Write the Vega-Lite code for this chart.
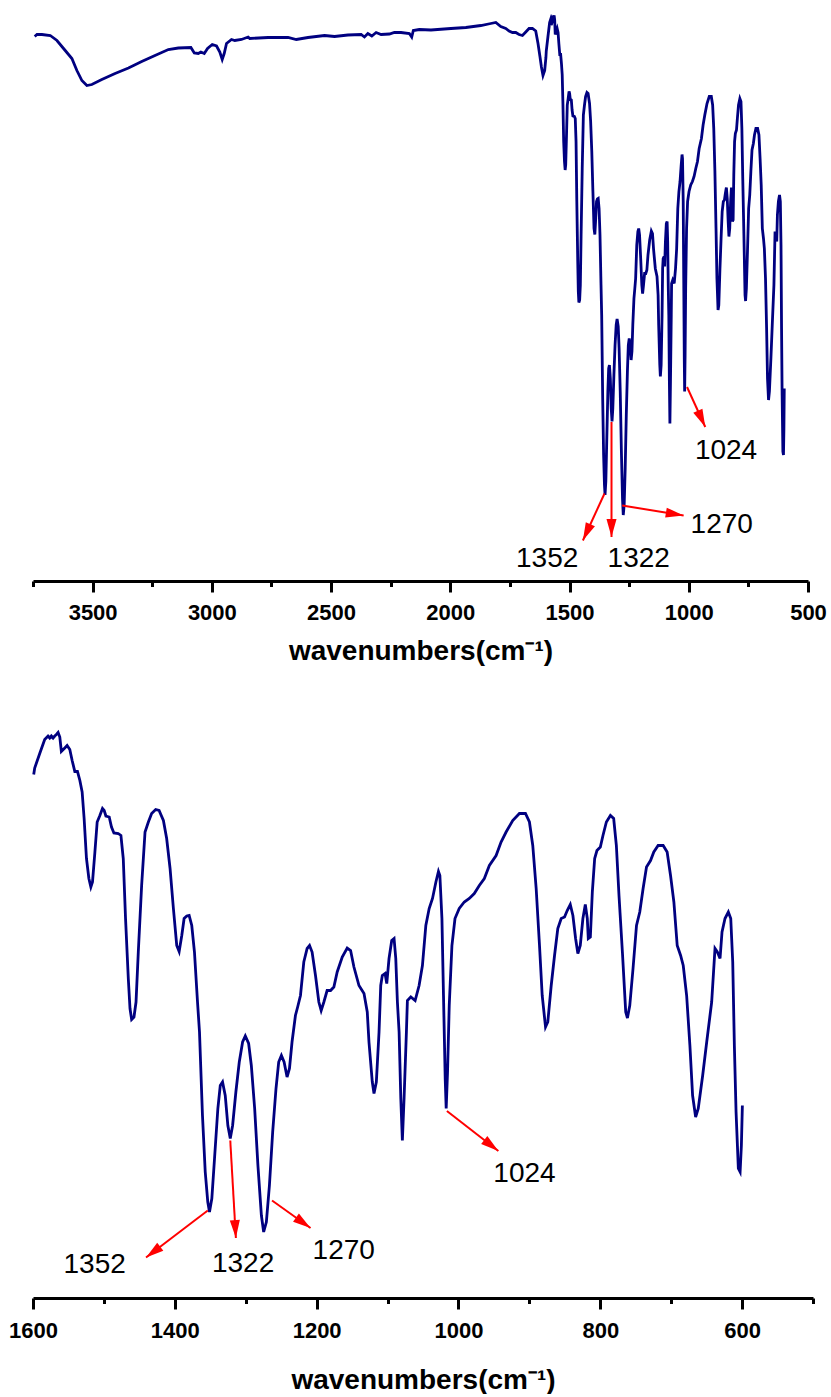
{
  "$schema": "https://vega.github.io/schema/vega-lite/v6.json",
  "padding": {"left": 8, "top": 6, "right": 0, "bottom": 0},
  "background": "white",
  "spacing": 58,
  "config": {
    "view": {"stroke": null},
    "axis": {"domainColor": "black", "domainWidth": 3, "tickColor": "black", "tickWidth": 3, "labelFont": "Liberation Sans", "labelFontWeight": "bold", "labelFontSize": 22, "labelColor": "black", "labelFlush": false, "titleFont": "Liberation Sans", "titleFontWeight": "bold", "titleFontSize": 28, "titleColor": "black", "grid": false}
  },
  "datasets": {
    "spectrum": [
      {"wn":3742.9,"T":108.9},{"wn":3733.3,"T":109.3},{"wn":3712.4,"T":109.3},{"wn":3677.6,"T":109.1},{"wn":3649.6,"T":108.1},{"wn":3614.9,"T":106.1},{"wn":3586.9,"T":104.5},{"wn":3565.9,"T":102.1},{"wn":3545.0,"T":100.1},{"wn":3524.1,"T":99.1},{"wn":3503.2,"T":99.3},{"wn":3461.4,"T":100.3},{"wn":3405.8,"T":101.5},{"wn":3349.7,"T":102.6},{"wn":3294.1,"T":103.9},{"wn":3238.4,"T":105.1},{"wn":3182.4,"T":106.3},{"wn":3140.6,"T":106.6},{"wn":3087.9,"T":106.7},{"wn":3073.6,"T":105.6},{"wn":3056.9,"T":105.5},{"wn":3046.0,"T":105.8},{"wn":3031.8,"T":105.5},{"wn":3018.0,"T":106.5},{"wn":2998.3,"T":107.3},{"wn":2980.4,"T":107.0},{"wn":2966.6,"T":105.8},{"wn":2956.5,"T":104.3},{"wn":2948.2,"T":105.5},{"wn":2938.5,"T":107.5},{"wn":2917.6,"T":108.3},{"wn":2903.8,"T":108.1},{"wn":2875.8,"T":108.3},{"wn":2847.8,"T":108.8},{"wn":2841.1,"T":108.5},{"wn":2764.1,"T":108.7},{"wn":2680.5,"T":108.7},{"wn":2645.7,"T":108.3},{"wn":2596.8,"T":108.7},{"wn":2527.4,"T":109.1},{"wn":2485.5,"T":108.9},{"wn":2429.5,"T":109.2},{"wn":2373.9,"T":109.3},{"wn":2360.1,"T":108.8},{"wn":2345.8,"T":109.5},{"wn":2329.1,"T":109.0},{"wn":2311.1,"T":109.7},{"wn":2290.2,"T":109.3},{"wn":2255.5,"T":109.4},{"wn":2234.6,"T":109.7},{"wn":2206.6,"T":109.7},{"wn":2171.8,"T":109.5},{"wn":2161.8,"T":108.8},{"wn":2155.1,"T":110.1},{"wn":2130.0,"T":110.3},{"wn":2081.1,"T":110.2},{"wn":1997.4,"T":110.5},{"wn":1934.7,"T":110.7},{"wn":1872.0,"T":111.1},{"wn":1830.1,"T":111.5},{"wn":1809.2,"T":111.7},{"wn":1788.3,"T":110.9},{"wn":1767.4,"T":110.5},{"wn":1753.6,"T":110.0},{"wn":1739.4,"T":109.7},{"wn":1725.5,"T":109.7},{"wn":1711.7,"T":109.3},{"wn":1697.5,"T":109.1},{"wn":1683.6,"T":109.8},{"wn":1669.8,"T":110.5},{"wn":1655.6,"T":110.5},{"wn":1641.8,"T":110.0},{"wn":1632.2,"T":107.5},{"wn":1623.8,"T":104.8},{"wn":1617.9,"T":102.8},{"wn":1611.3,"T":101.1},{"wn":1604.2,"T":102.1},
      {"wn":1599.0,"T":104.7},{"wn":1597.6,"T":106.0},{"wn":1590.5,"T":108.9},{"wn":1583.5,"T":111.7},{"wn":1578.8,"T":112.4},{"wn":1576.4,"T":112.0},{"wn":1574.1,"T":112.4},{"wn":1571.7,"T":112.0},{"wn":1569.3,"T":112.4},{"wn":1567.0,"T":112.7},{"wn":1564.6,"T":113.1},{"wn":1562.2,"T":112.2},{"wn":1560.0,"T":109.3},{"wn":1555.2,"T":110.0},{"wn":1551.9,"T":110.5},{"wn":1548.1,"T":109.7},{"wn":1544.8,"T":107.5},{"wn":1541.0,"T":105.3},{"wn":1537.3,"T":105.3},{"wn":1533.9,"T":103.5},{"wn":1530.7,"T":101.2},{"wn":1527.9,"T":95.9},{"wn":1524.6,"T":87.9},{"wn":1521.2,"T":83.9},{"wn":1518.4,"T":82.2},{"wn":1516.1,"T":83.2},{"wn":1512.7,"T":89.2},{"wn":1509.5,"T":95.2},{"wn":1505.7,"T":96.5},{"wn":1502.0,"T":97.9},{"wn":1499.6,"T":97.5},{"wn":1497.2,"T":96.4},{"wn":1492.5,"T":96.2},{"wn":1489.3,"T":94.2},{"wn":1485.9,"T":93.0},{"wn":1479.8,"T":92.9},{"wn":1476.0,"T":92.5},{"wn":1472.7,"T":87.9},{"wn":1469.5,"T":75.9},{"wn":1465.6,"T":63.9},{"wn":1463.2,"T":57.9},{"wn":1460.9,"T":55.7},{"wn":1457.6,"T":56.2},{"wn":1454.7,"T":59.2},{"wn":1451.5,"T":69.2},{"wn":1446.8,"T":82.5},{"wn":1442.0,"T":93.2},{"wn":1437.3,"T":95.2},{"wn":1432.7,"T":96.9},{"wn":1427.0,"T":97.7},{"wn":1422.2,"T":97.5},{"wn":1416.1,"T":95.5},{"wn":1411.5,"T":91.9},{"wn":1406.7,"T":85.9},{"wn":1402.0,"T":77.9},{"wn":1397.3,"T":70.5},{"wn":1393.9,"T":69.3},{"wn":1390.2,"T":72.5},{"wn":1386.9,"T":75.9},{"wn":1383.2,"T":76.4},{"wn":1379.8,"T":76.5},{"wn":1376.1,"T":74.5},{"wn":1372.3,"T":69.2},{"wn":1368.0,"T":59.2},{"wn":1365.2,"T":53.2},{"wn":1361.0,"T":36.5},{"wn":1357.1,"T":25.2},{"wn":1353.5,"T":19.2},{"wn":1351.1,"T":17.2},{"wn":1347.8,"T":19.9},{"wn":1344.0,"T":27.9},{"wn":1339.3,"T":37.9},{"wn":1335.9,"T":42.5},{"wn":1332.7,"T":43.2},{"wn":1328.9,"T":40.5},{"wn":1325.2,"T":34.5},{"wn":1321.8,"T":31.9},{"wn":1318.5,"T":34.5},{"wn":1313.9,"T":41.2},{"wn":1309.1,"T":47.2},{"wn":1304.4,"T":51.2},{"wn":1300.6,"T":52.4},{"wn":1295.9,"T":50.9},{"wn":1292.1,"T":46.5},{"wn":1287.4,"T":37.9},{"wn":1282.8,"T":26.5},{"wn":1277.9,"T":16.5},{"wn":1274.7,"T":13.2},{"wn":1270.9,"T":15.2},{"wn":1266.6,"T":22.5},{"wn":1262.0,"T":33.2},{"wn":1257.3,"T":41.9},{"wn":1253.5,"T":47.2},{"wn":1249.7,"T":48.5},{"wn":1245.9,"T":47.2},{"wn":1241.7,"T":44.2},{"wn":1238.3,"T":45.9},{"wn":1234.7,"T":51.2},{"wn":1229.9,"T":56.5},{"wn":1226.6,"T":58.3},{"wn":1222.8,"T":60.5},{"wn":1218.1,"T":67.2},{"wn":1213.4,"T":69.9},{"wn":1210.0,"T":70.5},{"wn":1206.4,"T":69.2},{"wn":1201.6,"T":64.5},{"wn":1196.9,"T":59.2},{"wn":1193.6,"T":57.5},{"wn":1189.8,"T":59.2},{"wn":1185.2,"T":61.5},{"wn":1180.4,"T":61.5},{"wn":1175.7,"T":62.2},{"wn":1171.0,"T":65.2},{"wn":1163.9,"T":68.2},{"wn":1156.9,"T":70.0},{"wn":1152.1,"T":69.5},{"wn":1147.4,"T":66.2},{"wn":1140.3,"T":62.5},{"wn":1133.2,"T":60.9},{"wn":1128.6,"T":57.2},{"wn":1126.2,"T":51.2},{"wn":1121.5,"T":43.2},{"wn":1119.1,"T":40.9},{"wn":1115.8,"T":43.2},{"wn":1112.0,"T":53.2},{"wn":1109.6,"T":62.5},{"wn":1107.4,"T":64.5},{"wn":1103.5,"T":64.9},{"wn":1101.1,"T":62.9},{"wn":1097.9,"T":67.9},{"wn":1094.1,"T":71.5},{"wn":1090.8,"T":71.9},{"wn":1088.4,"T":67.9},{"wn":1086.1,"T":59.2},{"wn":1083.7,"T":53.2},{"wn":1081.3,"T":39.9},{"wn":1079.1,"T":31.5},{"wn":1076.7,"T":39.9},{"wn":1073.4,"T":53.2},{"wn":1072.0,"T":59.5},{"wn":1067.2,"T":60.2},{"wn":1061.1,"T":59.5},{"wn":1055.5,"T":62.5},{"wn":1050.8,"T":66.5},{"wn":1046.0,"T":74.5},{"wn":1041.3,"T":77.9},{"wn":1036.6,"T":79.9},{"wn":1031.8,"T":83.2},{"wn":1028.2,"T":85.3},{"wn":1026.2,"T":84.5},{"wn":1023.3,"T":75.9},{"wn":1021.1,"T":60.5},{"wn":1018.7,"T":43.9},{"wn":1017.3,"T":37.9},{"wn":1015.4,"T":45.2},{"wn":1013.0,"T":58.5},{"wn":1009.2,"T":70.5},{"wn":1004.9,"T":75.9},{"wn":998.9,"T":77.9},{"wn":991.8,"T":79.2},{"wn":984.7,"T":79.9},{"wn":977.7,"T":80.9},{"wn":970.6,"T":82.5},{"wn":963.5,"T":83.9},{"wn":956.4,"T":86.5},{"wn":946.9,"T":88.5},{"wn":939.9,"T":91.2},{"wn":932.8,"T":93.2},{"wn":923.5,"T":95.5},{"wn":914.0,"T":96.9},{"wn":905.5,"T":96.9},{"wn":899.9,"T":95.2},{"wn":895.2,"T":90.5},{"wn":890.4,"T":81.9},{"wn":885.7,"T":70.5},{"wn":881.9,"T":60.5},{"wn":877.2,"T":54.2},{"wn":874.0,"T":55.2},{"wn":869.2,"T":62.5},{"wn":864.5,"T":68.5},{"wn":859.9,"T":73.9},{"wn":855.1,"T":75.9},{"wn":850.4,"T":76.2},{"wn":846.6,"T":77.5},{"wn":842.3,"T":78.7},{"wn":838.6,"T":76.5},{"wn":834.8,"T":71.9},{"wn":831.6,"T":68.9},{"wn":828.2,"T":70.5},{"wn":824.5,"T":75.9},{"wn":821.1,"T":78.7},{"wn":818.3,"T":75.9},{"wn":816.9,"T":71.9},{"wn":814.0,"T":72.2},{"wn":811.2,"T":81.2},{"wn":807.9,"T":87.9},{"wn":804.7,"T":89.5},{"wn":799.9,"T":90.2},{"wn":796.2,"T":92.5},{"wn":791.4,"T":95.2},{"wn":785.7,"T":96.5},{"wn":781.1,"T":95.9},{"wn":777.3,"T":90.5},{"wn":773.6,"T":80.5},{"wn":768.8,"T":69.2},{"wn":764.1,"T":57.2},{"wn":761.7,"T":56.0},{"wn":758.4,"T":58.5},{"wn":753.8,"T":65.9},{"wn":748.9,"T":74.5},{"wn":744.3,"T":77.2},{"wn":739.6,"T":81.9},{"wn":734.8,"T":86.2},{"wn":729.1,"T":87.5},{"wn":724.5,"T":89.2},{"wn":718.4,"T":90.5},{"wn":711.3,"T":90.5},{"wn":705.7,"T":89.2},{"wn":700.9,"T":84.5},{"wn":696.2,"T":79.2},{"wn":691.5,"T":70.5},{"wn":686.7,"T":68.5},{"wn":683.0,"T":66.5},{"wn":678.2,"T":60.5},{"wn":673.6,"T":50.5},{"wn":669.8,"T":40.5},{"wn":665.5,"T":36.2},{"wn":661.8,"T":37.9},{"wn":655.6,"T":44.5},{"wn":649.9,"T":51.2},{"wn":642.9,"T":59.2},{"wn":638.2,"T":69.9},{"wn":634.9,"T":69.2},{"wn":631.1,"T":67.9},{"wn":628.3,"T":73.2},{"wn":624.1,"T":75.9},{"wn":619.4,"T":77.2},{"wn":616.0,"T":75.9},{"wn":613.2,"T":67.2},{"wn":610.9,"T":50.5},{"wn":608.5,"T":37.2},{"wn":605.3,"T":25.9},{"wn":602.8,"T":25.2},{"wn":601.0,"T":30.5},{"wn":599.6,"T":38.5}
    ],
    "arrows": [
      {"panel":"full","label":"1352","x1":1353.3,"t1":17.5,"x2":1444.0,"t2":8.1,"lx":1593.8,"lt":2.9},
      {"panel":"full","label":"1322","x1":1324.0,"t1":31.8,"x2":1324.0,"t2":8.8,"lx":1209.8,"lt":2.9},
      {"panel":"full","label":"1270","x1":1279.2,"t1":15.1,"x2":1021.6,"t2":13.1,"lx":861.8,"lt":9.7},
      {"panel":"full","label":"1024","x1":1007.3,"t1":38.8,"x2":930.8,"t2":30.8,"lx":843.8,"lt":24.5},
      {"panel":"zoom","label":"1352","x1":1353.5,"t1":17.5,"x2":1440.6,"t2":8.1,"lx":1513.0,"lt":5.1},
      {"panel":"zoom","label":"1322","x1":1321.8,"t1":31.5,"x2":1313.9,"t2":12.0,"lx":1303.7,"lt":5.3},
      {"panel":"zoom","label":"1270","x1":1262.9,"t1":19.5,"x2":1208.6,"t2":14.0,"lx":1161.8,"lt":7.9},
      {"panel":"zoom","label":"1024","x1":1016.3,"t1":37.4,"x2":943.7,"t2":29.4,"lx":906.9,"lt":23.3}
    ]
  },
  "vconcat": [
    {
      "width": 775,
      "height": 575,
      "resolve": {"scale": {"x": "shared", "y": "shared"}, "axis": {"x": "independent"}},
      "layer": [
        {
          "data": {"name": "spectrum"},
          "mark": {"type": "line", "color": "#000080", "strokeWidth": 2.8},
          "encoding": {
            "x": {"field": "wn", "type": "quantitative", "scale": {"domain": [500, 3750], "reverse": true, "nice": false, "zero": false},
                  "axis": {"orient": "bottom", "values": [3500, 3000, 2500, 2000, 1500, 1000, 500], "format": "d", "tickSize": 11, "labelPadding": 10, "title": "wavenumbers(cm⁻¹)", "titlePadding": 14}},
            "y": {"field": "T", "type": "quantitative", "scale": {"domain": [0, 115], "nice": false, "zero": false}, "axis": null}
          }
        },
        {
          "data": {"name": "arrows"},
          "transform": [{"filter": "datum.panel == 'full'"}],
          "mark": {"type": "rule", "color": "#ff0000", "strokeWidth": 2},
          "encoding": {
            "x": {"field": "x1", "type": "quantitative", "axis": null},
            "x2": {"field": "x2"},
            "y": {"field": "t1", "type": "quantitative", "axis": null},
            "y2": {"field": "t2"}
          }
        },
        {
          "data": {"name": "arrows"},
          "transform": [{"filter": "datum.panel == 'full'"}, {"calculate": "atan2((datum.x1 - datum.x2) * 0.23846, (datum.t2 - datum.t1) * 5) * 180 / PI", "as": "ang"}],
          "mark": {"type": "point", "shape": "M0,0L0.45,1.6L-0.45,1.6Z", "filled": true, "color": "#ff0000", "opacity": 1, "size": 500},
          "encoding": {
            "x": {"field": "x2", "type": "quantitative", "axis": {"orient": "bottom", "values": [3750, 3250, 2750, 2250, 1750, 1250, 750], "tickSize": 5.5, "labels": false, "domain": false, "title": null}},
            "y": {"field": "t2", "type": "quantitative", "axis": null},
            "angle": {"field": "ang", "type": "quantitative", "scale": null}
          }
        },
        {
          "data": {"name": "arrows"},
          "transform": [{"filter": "datum.panel == 'full'"}],
          "mark": {"type": "text", "font": "Liberation Sans", "fontSize": 28, "color": "black", "align": "center", "baseline": "alphabetic"},
          "encoding": {
            "x": {"field": "lx", "type": "quantitative", "axis": null},
            "y": {"field": "lt", "type": "quantitative", "axis": null},
            "text": {"field": "label"}
          }
        }
      ]
    },
    {
      "width": 780,
      "height": 575,
      "resolve": {"scale": {"x": "shared", "y": "shared"}, "axis": {"x": "independent"}},
      "layer": [
        {
          "data": {"name": "spectrum"},
          "transform": [{"filter": "datum.wn <= 1600"}],
          "mark": {"type": "line", "color": "#000080", "strokeWidth": 2.8},
          "encoding": {
            "x": {"field": "wn", "type": "quantitative", "scale": {"domain": [500, 1600], "reverse": true, "nice": false, "zero": false},
                  "axis": {"orient": "bottom", "values": [1600, 1400, 1200, 1000, 800, 600], "format": "d", "tickSize": 11, "labelPadding": 11, "title": "wavenumbers(cm⁻¹)", "titlePadding": 25}},
            "y": {"field": "T", "type": "quantitative", "scale": {"domain": [0, 115], "nice": false, "zero": false}, "axis": null}
          }
        },
        {
          "data": {"name": "arrows"},
          "transform": [{"filter": "datum.panel == 'zoom'"}],
          "mark": {"type": "rule", "color": "#ff0000", "strokeWidth": 2},
          "encoding": {
            "x": {"field": "x1", "type": "quantitative", "axis": null},
            "x2": {"field": "x2"},
            "y": {"field": "t1", "type": "quantitative", "axis": null},
            "y2": {"field": "t2"}
          }
        },
        {
          "data": {"name": "arrows"},
          "transform": [{"filter": "datum.panel == 'zoom'"}, {"calculate": "atan2((datum.x1 - datum.x2) * 0.70909, (datum.t2 - datum.t1) * 5) * 180 / PI", "as": "ang"}],
          "mark": {"type": "point", "shape": "M0,0L0.45,1.6L-0.45,1.6Z", "filled": true, "color": "#ff0000", "opacity": 1, "size": 500},
          "encoding": {
            "x": {"field": "x2", "type": "quantitative", "axis": {"orient": "bottom", "values": [1500, 1300, 1100, 900, 700, 500], "tickSize": 5.5, "labels": false, "domain": false, "title": null}},
            "y": {"field": "t2", "type": "quantitative", "axis": null},
            "angle": {"field": "ang", "type": "quantitative", "scale": null}
          }
        },
        {
          "data": {"name": "arrows"},
          "transform": [{"filter": "datum.panel == 'zoom'"}],
          "mark": {"type": "text", "font": "Liberation Sans", "fontSize": 28, "color": "black", "align": "center", "baseline": "alphabetic"},
          "encoding": {
            "x": {"field": "lx", "type": "quantitative", "axis": null},
            "y": {"field": "lt", "type": "quantitative", "axis": null},
            "text": {"field": "label"}
          }
        }
      ]
    }
  ]
}
